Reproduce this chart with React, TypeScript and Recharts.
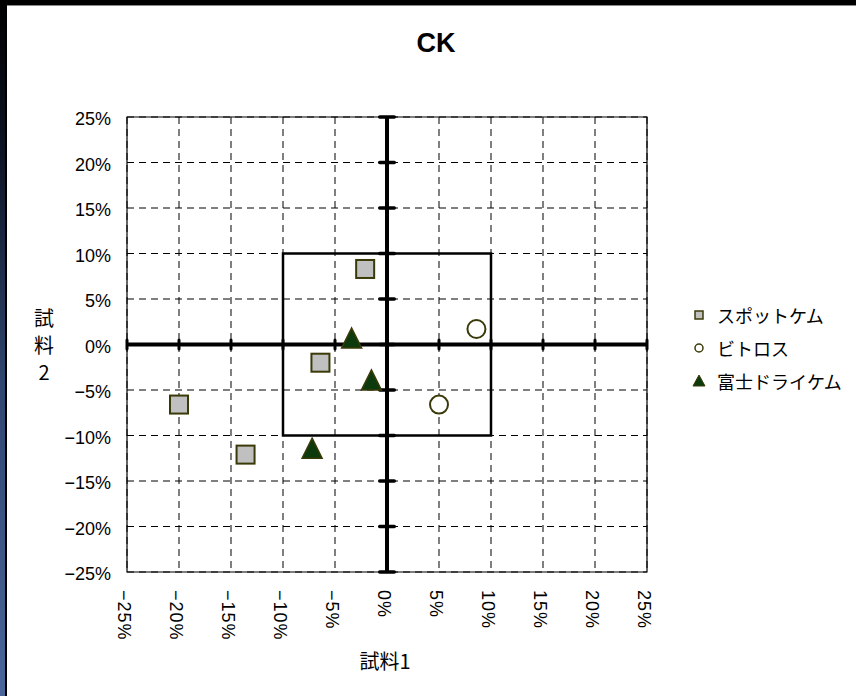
import React from 'react';
import {
  ScatterChart, Scatter, XAxis, YAxis, CartesianGrid, ReferenceLine, ReferenceArea
} from 'recharts';

// axis ticks, in percent
const axisTicks = [-25, -20, -15, -10, -5, 0, 5, 10, 15, 20, 25];

// スポットケム
const spotchemX = [-2.1, -6.4, -20.0, -13.6];
const spotchemY = [8.3, -2.0, -6.6, -12.1];
// ビトロス
const vitrosX = [8.6, 5.0];
const vitrosY = [1.7, -6.6];
// 富士ドライケム
const drichemX = [-3.4, -1.5, -7.2];
const drichemY = [0.6, -4.0, -11.5];

const seriesNames = ['スポットケム', 'ビトロス', '富士ドライケム'];

const zip = (xs: number[], ys: number[]) => xs.map((x, i) => ({ x, y: ys[i] }));

const LATIN = "'Liberation Sans', Arial, 'Noto Sans CJK JP', sans-serif";
const CJK = "'Noto Sans CJK JP', sans-serif";
const OLIVE = '#3a3a08';

const fmt = (v: number) => (v < 0 ? `\u2212${-v}%` : `${v}%`);

const SquareDot = (p: any) => (
  <rect x={p.cx - 9} y={p.cy - 9} width={18} height={18} fill="#c0c0c0" stroke={OLIVE} strokeWidth={2} />
);
const CircleDot = (p: any) => (
  <circle cx={p.cx} cy={p.cy} r={9} fill="#fff" stroke={OLIVE} strokeWidth={2} />
);
const TriangleDot = (p: any) => (
  <polygon
    points={`${p.cx},${p.cy - 11} ${p.cx + 10},${p.cy + 9} ${p.cx - 10},${p.cy + 9}`}
    fill="#0d3a0d" stroke={OLIVE} strokeWidth={1.5}
  />
);

const XTick = ({ x, y, payload }: any) => {
  const ty = y + 18;
  const tx = x - 3;
  return (
    <text x={tx} y={ty} transform={`rotate(90, ${tx}, ${ty})`} textAnchor="start"
      dominantBaseline="central" fontSize={18} letterSpacing={1} fontFamily={LATIN} fill="#000">
      {fmt(payload.value)}
    </text>
  );
};

const YTick = ({ x, y, payload }: any) => (
  <text x={x} y={y + 2} textAnchor="end" dominantBaseline="central" fontSize={18} fontFamily={LATIN} fill="#000">
    {fmt(payload.value)}
  </text>
);

const legendMarkers = [
  <rect key="s" x={4} y={4} width={8} height={8} fill="#c0c0c0" stroke={OLIVE} strokeWidth={1.5} />,
  <circle key="c" cx={8} cy={8} r={4} fill="#fff" stroke={OLIVE} strokeWidth={1.5} />,
  <polygon key="t" points="8,2 14,13 2,13" fill="#0d3a0d" stroke={OLIVE} strokeWidth={1} />,
];

export default function App() {
  return (
    <div style={{ position: 'fixed', left: 0, top: 0, width: 856, height: 696, background: '#000', overflow: 'hidden' }}>
      <div style={{
        position: 'absolute', left: 0, top: 0, width: 5, height: 696,
        background: 'linear-gradient(to bottom, #000 0%, #0e1424 22%, #2f4670 55%, #4a659a 100%)'
      }} />
      <div style={{ position: 'absolute', left: 7, top: 5, right: 0, height: 1, background: '#888' }} />
      <div style={{ position: 'absolute', left: 7, top: 6, right: 0, bottom: 0, background: '#fff' }} />

      <div style={{
        position: 'absolute', left: 336, top: 28, width: 200, textAlign: 'center',
        fontFamily: LATIN, fontWeight: 'bold', fontSize: 27, lineHeight: '30px', color: '#000'
      }}>CK</div>

      <div style={{
        position: 'absolute', left: 30, top: 304, width: 28, textAlign: 'center',
        fontFamily: CJK, fontSize: 20, lineHeight: '27px', color: '#000'
      }}>
        <div>試</div><div>料</div><div>2</div>
      </div>

      <div style={{
        position: 'absolute', left: 285, top: 648, width: 200, textAlign: 'center',
        fontFamily: CJK, fontSize: 20, lineHeight: '26px', color: '#000'
      }}>試料1</div>

      <div style={{ position: 'absolute', left: 691, top: 298, fontFamily: CJK, fontSize: 18, color: '#000' }}>
        {seriesNames.map((name, i) => (
          <div key={name} style={{ display: 'flex', alignItems: 'center', height: 33 }}>
            <svg width={16} height={16} style={{ marginRight: 10 }}>{legendMarkers[i]}</svg>
            <span>{name}</span>
          </div>
        ))}
      </div>

      <div style={{ position: 'absolute', left: 0, top: 0 }}>
        <ScatterChart width={856} height={696} margin={{ top: 117, right: 209, bottom: 0, left: 0 }}>
          <CartesianGrid stroke="#000" strokeDasharray="7 5" strokeWidth={1} />
          <XAxis type="number" dataKey="x" domain={[-25, 25]} ticks={axisTicks} interval={0}
            height={124} tickSize={0} tickMargin={0} axisLine={false} tickLine={false} tick={<XTick />} />
          <YAxis type="number" dataKey="y" domain={[-25, 25]} ticks={axisTicks} interval={0}
            width={127} tickSize={0} tickMargin={16} axisLine={false} tickLine={false} tick={<YTick />} />
          <ReferenceArea x1={-25} x2={25} y1={-25} y2={25} fill="none" fillOpacity={0}
            stroke="#000" strokeWidth={1.2} ifOverflow="visible" />
          <ReferenceArea x1={-10} x2={10} y1={-10} y2={10} fill="none" fillOpacity={0}
            stroke="#000" strokeWidth={2.5} ifOverflow="visible" />
          <ReferenceLine x={0} stroke="#000" strokeWidth={4} ifOverflow="visible" />
          <ReferenceLine y={0} stroke="#000" strokeWidth={4} ifOverflow="visible" />
          {axisTicks.map(t => (
            <ReferenceLine key={`yt${t}`} segment={[{ x: -0.7, y: t }, { x: 0.7, y: t }]}
              stroke="#000" strokeWidth={3.5} strokeLinecap="round" ifOverflow="visible" />
          ))}
          {axisTicks.map(t => (
            <ReferenceLine key={`xt${t}`} segment={[{ x: t, y: -0.5 }, { x: t, y: 0.5 }]}
              stroke="#000" strokeWidth={3} strokeLinecap="round" ifOverflow="visible" />
          ))}
          <Scatter name={seriesNames[0]} data={zip(spotchemX, spotchemY)} shape={SquareDot} isAnimationActive={false} />
          <Scatter name={seriesNames[1]} data={zip(vitrosX, vitrosY)} shape={CircleDot} isAnimationActive={false} />
          <Scatter name={seriesNames[2]} data={zip(drichemX, drichemY)} shape={TriangleDot} isAnimationActive={false} />
        </ScatterChart>
      </div>
    </div>
  );
}
